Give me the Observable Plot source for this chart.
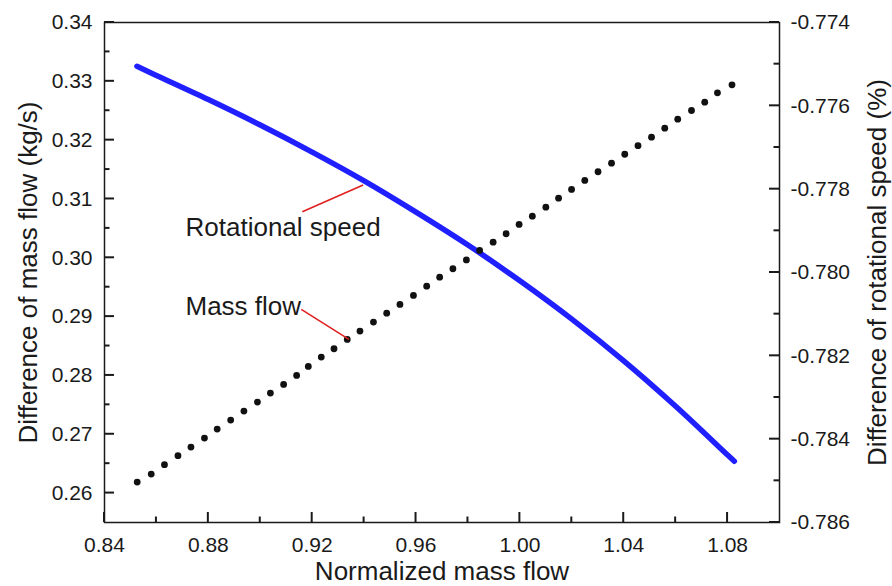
<!DOCTYPE html>
<html>
<head>
<meta charset="utf-8">
<script src="https://cdn.jsdelivr.net/npm/d3@7"></script>
<script src="https://cdn.jsdelivr.net/npm/@observablehq/plot@0.6"></script>
<style>
  html, body { margin: 0; padding: 0; background: #fff; }
  svg { display: block; }
</style>
</head>
<body>
<div id="chart"></div>
<script>
// ---- Data ----
// Mass flow difference (left axis, kg/s) — black dotted series
const massX = [0.8526, 0.8580, 0.8631, 0.8683, 0.8733, 0.8785, 0.8834, 0.8886, 0.8937, 0.8989,
               0.9039, 0.9090, 0.9140, 0.9185, 0.9235, 0.9284, 0.9335, 0.9384, 0.9436, 0.9487,
               0.9538, 0.9590, 0.9641, 0.9691, 0.9742, 0.9794, 0.9845, 0.9897, 0.9947, 0.9997,
               1.0048, 1.0100, 1.0149, 1.0199, 1.0250, 1.0301, 1.0353, 1.0404, 1.0455, 1.0507,
               1.0558, 1.0608, 1.0661, 1.0712, 1.0761, 1.0817];
const massDiff = [0.26187, 0.26323, 0.26483, 0.26636, 0.26782, 0.26935, 0.27088, 0.27241, 0.27394, 0.27547,
                  0.27700, 0.27848, 0.28001, 0.28154, 0.28312, 0.28454, 0.28613, 0.28754, 0.28907, 0.29059,
                  0.29207, 0.29360, 0.29517, 0.29671, 0.29814, 0.29964, 0.30125, 0.30266, 0.30409, 0.30567,
                  0.30708, 0.30861, 0.31014, 0.31162, 0.31315, 0.31463, 0.31609, 0.31760, 0.31906, 0.32051,
                  0.32204, 0.32357, 0.32504, 0.32645, 0.32805, 0.32941];

// Rotational speed difference (right axis, %) — blue line
const speedX = [0.8525, 0.86, 0.88, 0.90, 0.92, 0.94, 0.96, 0.98, 1.00, 1.02, 1.04, 1.06, 1.08, 1.0826];
const speedDiff = [-0.77505, -0.77527, -0.77585, -0.77646, -0.77711, -0.77780, -0.77855, -0.77934,
                   -0.78020, -0.78112, -0.78212, -0.78321, -0.78438, -0.78453];

// Axis ticks
const xTicks = [0.84, 0.88, 0.92, 0.96, 1.00, 1.04, 1.08];
const xMinor = [0.86, 0.90, 0.94, 0.98, 1.02, 1.06];
const leftTicks = [0.26, 0.27, 0.28, 0.29, 0.30, 0.31, 0.32, 0.33, 0.34];
const leftMinor = [0.265, 0.275, 0.285, 0.295, 0.305, 0.315, 0.325, 0.335];
const rightTicks = [-0.786, -0.784, -0.782, -0.780, -0.778, -0.776, -0.774];
const rightMinor = [-0.785, -0.783, -0.781, -0.779, -0.777, -0.775];

// Domains
const xDomain = [0.84, 1.10];
const leftDomain = [0.255, 0.34];
const rightDomain = [-0.786, -0.774];

// Annotations
const labels = [
  {x: 0.8712, y: 0.30504, text: "Rotational speed"},
  {x: 0.8712, y: 0.29161, text: "Mass flow"}
];
const leaderMass = [{x1: 0.9158, y1: 0.29122, x2: 0.93416, y2: 0.28612}];
const leaderSpeed = [{x1: 0.9162, y1: -0.77854, x2: 0.93963, y2: -0.77790}];

// ---- Mapping between the right-axis units and the shared y scale ----
const toLeft = v => leftDomain[0] + (v - rightDomain[0]) / (rightDomain[1] - rightDomain[0]) * (leftDomain[1] - leftDomain[0]);
const toRight = u => rightDomain[0] + (u - leftDomain[0]) / (leftDomain[1] - leftDomain[0]) * (rightDomain[1] - rightDomain[0]);

const massData = massX.map((x, i) => ({x, y: massDiff[i]}));
const speedData = speedX.map((x, i) => ({x, y: toLeft(speedDiff[i])}));

const FONT = "'Liberation Sans', Arial, Helvetica, sans-serif";
const INK = "#1a1a1a";

// Inward tick marks drawn with Plot's own scales
function innerTicks(index, scales, values, dimensions) {
  const {width, height, marginLeft, marginRight, marginBottom} = dimensions;
  const x = scales.x, y = scales.y;
  const L = marginLeft, R = width - marginRight, B = height - marginBottom;
  const g = d3.create("svg:g").attr("stroke", INK).attr("stroke-width", 2).attr("fill", "none");
  const seg = (x1, y1, x2, y2) => g.append("line").attr("x1", x1).attr("y1", y1).attr("x2", x2).attr("y2", y2);
  const MAJ = 10, MIN = 5.5;
  xTicks.forEach(v => seg(x(v), B, x(v), B - MAJ));
  xMinor.forEach(v => seg(x(v), B, x(v), B - MIN));
  leftTicks.forEach(v => seg(L, y(v), L + MAJ, y(v)));
  leftMinor.forEach(v => seg(L, y(v), L + MIN, y(v)));
  rightTicks.forEach(v => seg(R, y(toLeft(v)), R - MAJ, y(toLeft(v))));
  rightMinor.forEach(v => seg(R, y(toLeft(v)), R - MIN, y(toLeft(v))));
  return g.node();
}

const chart = Plot.plot({
  width: 892,
  height: 586,
  marginLeft: 104,
  marginRight: 113,
  marginTop: 22,
  marginBottom: 64,
  x: {domain: xDomain},
  y: {domain: leftDomain},
  style: {fontFamily: FONT, fontSize: "21px", background: "#fff", color: INK},
  marks: [
    Plot.axisX(xTicks, {anchor: "bottom", tickSize: 0, tickPadding: 15, tickFormat: d => d.toFixed(2), label: null}),
    Plot.axisY(leftTicks, {anchor: "left", tickSize: 0, tickPadding: 12, tickFormat: d => d.toFixed(2), label: null}),
    Plot.axisY(rightTicks.map(toLeft), {anchor: "right", tickSize: 0, tickPadding: 11, tickFormat: d => toRight(d).toFixed(3), label: null}),
    innerTicks,
    Plot.frame({stroke: INK, strokeWidth: 1.5}),
    Plot.line(speedData, {x: "x", y: "y", stroke: "#1f1fff", strokeWidth: 5.5, curve: "catmull-rom"}),
    Plot.dot(massData, {x: "x", y: "y", r: 3.4, fill: "#111", stroke: null}),
    Plot.link(leaderMass, {x1: "x1", y1: "y1", x2: "x2", y2: "y2", stroke: "#e02020", strokeWidth: 1.6}),
    Plot.link(leaderSpeed, {x1: "x1", y1: d => toLeft(d.y1), x2: "x2", y2: d => toLeft(d.y2), stroke: "#e02020", strokeWidth: 1.6}),
    Plot.text(labels, {x: "x", y: "y", text: "text", textAnchor: "start", lineAnchor: "middle", fontSize: 26, fill: INK}),
    Plot.text(["Normalized mass flow"], {text: d => d, frameAnchor: "bottom", dy: 49, textAnchor: "middle", lineAnchor: "middle", fontSize: 26, fill: INK}),
    Plot.text(["Difference of mass flow (kg/s)"], {text: d => d, frameAnchor: "left", dx: -76, rotate: -90, textAnchor: "middle", lineAnchor: "middle", fontSize: 26, fill: INK}),
    Plot.text(["Difference of rotational speed (%)"], {text: d => d, frameAnchor: "right", dx: 98, rotate: -90, textAnchor: "middle", lineAnchor: "middle", fontSize: 26, fill: INK})
  ]
});

document.getElementById("chart").appendChild(chart);
</script>
</body>
</html>
